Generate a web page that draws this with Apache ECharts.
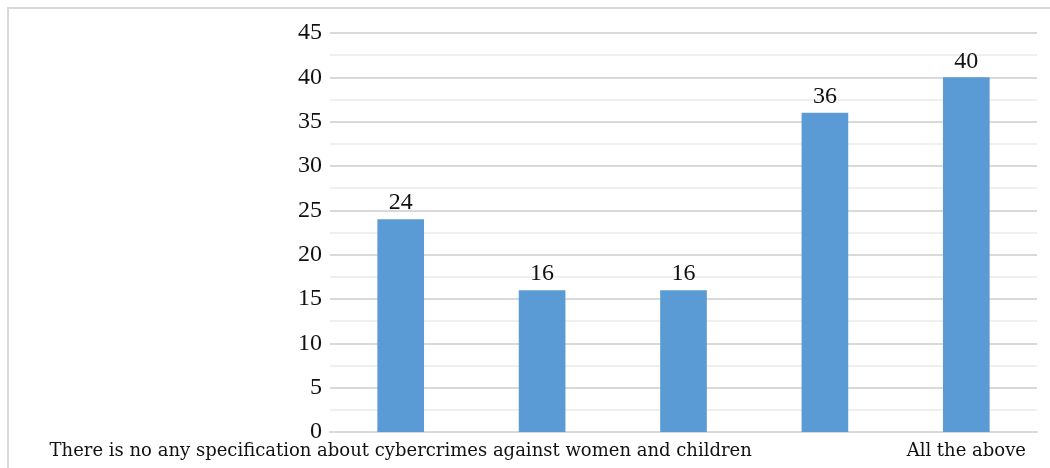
<!DOCTYPE html>
<html lang="en">
<head>
    <meta charset="UTF-8">
    <title>Chart</title>
    <script src="https://cdn.jsdelivr.net/npm/echarts@6/dist/echarts.min.js"></script>
    <style>
        html, body { margin: 0; padding: 0; background: #fff; }
        #container { width: 1050px; height: 468px; }
    </style>
</head>
<body>
<div id="container"></div>
<script type="text/javascript">
    // categories (middle labels are hidden in the original picture)
    let categories = [
        'There is no any specification about cybercrimes against women and children',
        '',
        '',
        '',
        'All the above'
    ];
    let values = [24, 16, 16, 36, 40];
    let yTicks = [0, 5, 10, 15, 20, 25, 30, 35, 40, 45];

    let myChart = echarts.init(document.getElementById('container'));
    let option = {
        animation: false,
        color: ['#5b9bd5'],
        graphic: [{
            type: 'rect',
            shape: { x: 8, y: 8, width: 1100, height: 500 },
            style: { fill: 'none', stroke: '#d9d9d9', lineWidth: 2 },
            silent: true
        }],
        grid: {
            left: 330,
            right: 13,
            top: 33,
            bottom: 36
        },
        xAxis: {
            type: 'category',
            data: categories,
            axisTick: { show: false },
            axisLine: { lineStyle: { color: '#d9d9d9', width: 2 } },
            axisLabel: {
                interval: 0,
                margin: 10,
                color: '#111',
                fontFamily: 'DejaVu Serif',
                fontSize: 18
            }
        },
        yAxis: {
            type: 'value',
            min: yTicks[0],
            max: yTicks[yTicks.length - 1],
            interval: 5,
            axisLine: { show: false },
            axisTick: { show: false },
            axisLabel: {
                margin: 8,
                color: '#111',
                fontFamily: 'Liberation Serif',
                fontSize: 24
            },
            splitLine: { lineStyle: { color: '#d9d9d9', width: 2 } },
            minorTick: { show: false, splitNumber: 2 },
            minorSplitLine: { show: true, lineStyle: { color: '#efefef', width: 2 } }
        },
        series: [{
            type: 'bar',
            data: values,
            barWidth: '33%',
            label: {
                show: true,
                position: 'top',
                distance: 4,
                color: '#111',
                fontFamily: 'Liberation Serif',
                fontSize: 24
            }
        }]
    };
    myChart.setOption(option);
</script>
</body>
</html>
